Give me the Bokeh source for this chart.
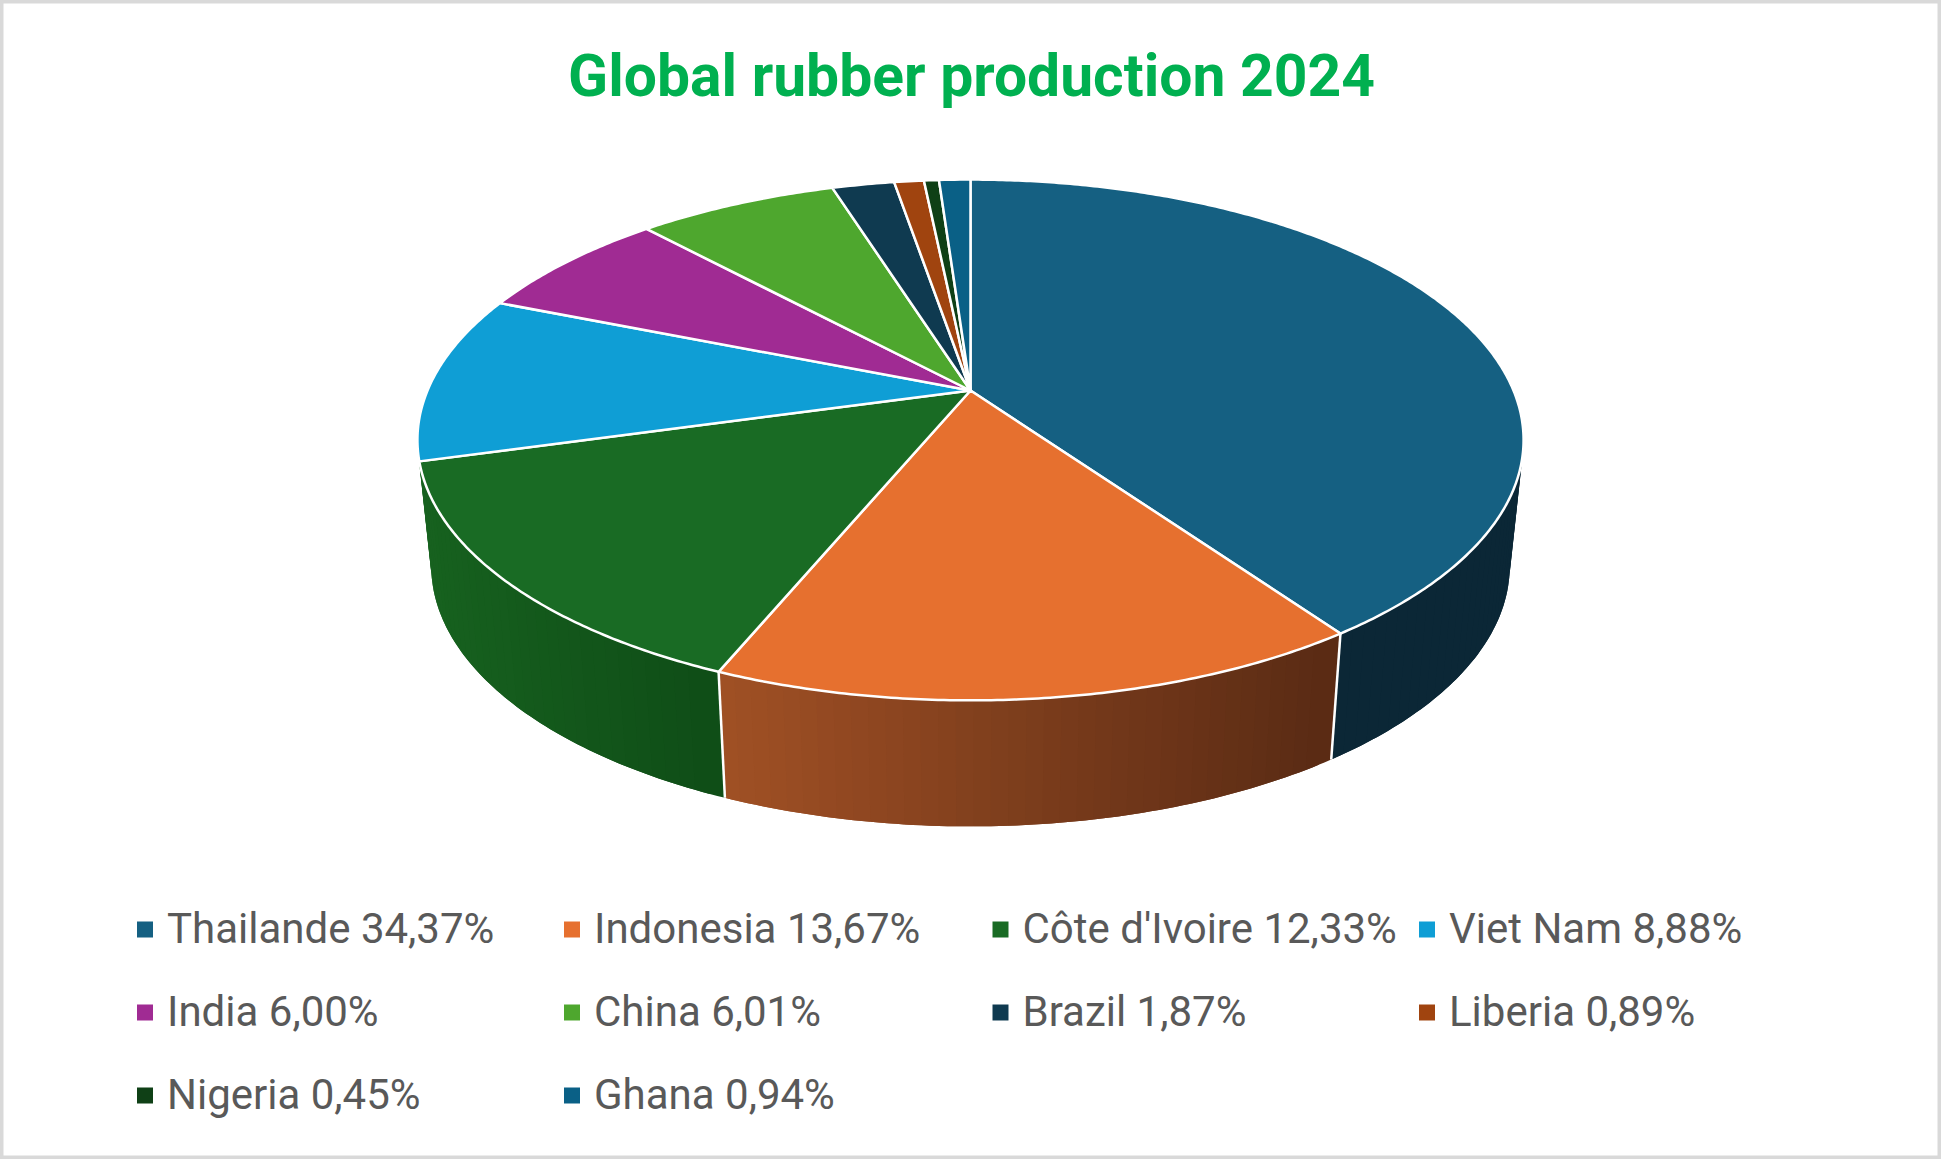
import numpy as np
from bokeh.plotting import figure
from bokeh.models import Range1d
from bokeh.core.properties import value
from bokeh.embed import file_html
from bokeh.resources import INLINE

title_text = "Global rubber production 2024"
countries = ["Thailande", "Indonesia", "Côte d'Ivoire", "Viet Nam", "India",
             "China", "Brazil", "Liberia", "Nigeria", "Ghana"]
shares = [34.37, 13.67, 12.33, 8.88, 6.00, 6.01, 1.87, 0.89, 0.45, 0.94]
share_labels = ["34,37%", "13,67%", "12,33%", "8,88%", "6,00%",
                "6,01%", "1,87%", "0,89%", "0,45%", "0,94%"]
top_colors = ["#156082", "#E6702F", "#196B24", "#0F9ED5", "#A02B93",
              "#4EA72E", "#0F3A50", "#A0440F", "#0F4016", "#0A6086"]
# side shading, left colour then right colour of the visible wall of a slice
side_colors = {0: ("#0B2736", "#0B2736"), 1: ("#A25125", "#5A2B14"), 2: ("#17621F", "#0F4D17")}

# picture-space projection of the tilted disc
CX, CY = 970.0, 390.0
A, B, K = 543.0, 251.0, 0.19
DEPTH, SHRINK = 126.0, 0.975
TANGENT = np.degrees(np.arccos(-K))


def top(theta):
    u, v = np.sin(np.radians(theta)), np.cos(np.radians(theta))
    d = 1 + K * v
    return CX + A * u / d, CY - B * v / d


def bottom(theta):
    x, y = top(theta)
    return CX + SHRINK * (x - CX), y + DEPTH


def hex2rgb(h):
    return np.array([int(h[i:i + 2], 16) for i in (1, 3, 5)], dtype=float)


def mix(c0, c1, t):
    r = hex2rgb(c0) * (1 - t) + hex2rgb(c1) * t
    return "#%02x%02x%02x" % tuple(int(round(c)) for c in r)


W, H = 1941, 1159
p = figure(width=W, height=H, output_backend="svg", toolbar_location=None,
           x_range=Range1d(0, W), y_range=Range1d(H, 0),
           min_border=0, background_fill_color="white", border_fill_color="white")
p.axis.visible = False
p.grid.visible = False
p.outline_line_color = "#D9D9D9"
p.outline_line_width = 6

edges = 360.0 * np.concatenate([[0], np.cumsum(shares)]) / np.sum(shares)

# walls of the pie: overlapping bands so that no seams show
band_xs, band_ys, band_cols = [], [], []
for i, cols in side_colors.items():
    a0, a1 = edges[i], edges[i + 1]
    a0v = max(a0, TANGENT)
    a1v = 360 - TANGENT if i == 2 else min(a1, 360 - TANGENT)
    steps = max(2, int((a1v - a0v) / 1.5))
    th = np.linspace(a0v, a1v, steps + 1)
    xl = min(top(a0v)[0], top(a1v)[0])
    xr = max(top(a0v)[0], top(a1v)[0])
    # paint from the far end backwards, each band reaching over its neighbour
    for j in range(steps - 1, -1, -1):
        seg = np.linspace(th[j], th[j + 1] if j == steps - 1 else th[j + 2], 5)
        xt, yt = top(seg)
        xb, yb = bottom(seg)
        band_xs.append(list(xt) + list(xb[::-1]))
        band_ys.append(list(yt) + list(yb[::-1]))
        xm = top((th[j] + th[j + 1]) / 2)[0]
        band_cols.append(mix(cols[0], cols[1], float((xm - xl) / (xr - xl))))
p.patches(band_xs, band_ys, fill_color=band_cols, line_color=None)

seam_x0, seam_y0, seam_x1, seam_y1 = [], [], [], []
for i in (1, 2):
    x0, y0 = top(edges[i])
    x1, y1 = bottom(edges[i])
    seam_x0.append(x0); seam_y0.append(y0); seam_x1.append(x1); seam_y1.append(y1)
p.segment(seam_x0, seam_y0, seam_x1, seam_y1, line_color="white", line_width=2.5)

# top face
xs, ys = [], []
for a0, a1 in zip(edges[:-1], edges[1:]):
    th = np.linspace(a0, a1, max(4, int((a1 - a0) * 2)))
    x, y = top(th)
    xs.append([CX] + list(x))
    ys.append([CY] + list(y))
p.patches(xs, ys, fill_color=top_colors, line_color="white", line_width=2.5, line_join="round")

# title
p.text([971], [75], text=[title_text], text_font=value("Roboto"), text_font_style="bold",
       text_font_size="58.8px", text_color="#00B050", text_align="center", text_baseline="alphabetic")

# legend
col_x = [144.5, 571.5, 1000.0, 1426.5]
row_y = [929.0, 1012.0, 1095.0]
TEXT_DX, BASE_DY = 22.0, -1.0
lx, ly, ltxt, lc = [], [], [], []
for i, (name, lab, c) in enumerate(zip(countries, share_labels, top_colors)):
    lx.append(col_x[i % 4]); ly.append(row_y[i // 4]); ltxt.append(f"{name} {lab}"); lc.append(c)
p.scatter(lx, ly, marker="square", size=16, fill_color=lc, line_color=None)
p.text([x + TEXT_DX for x in lx], [y + BASE_DY for y in ly], text=ltxt,
       text_font=value("Roboto"), text_font_size="42px", text_color="#595959",
       text_align="left", text_baseline="alphabetic")

open("out.html", "w").write(file_html(p, INLINE))
